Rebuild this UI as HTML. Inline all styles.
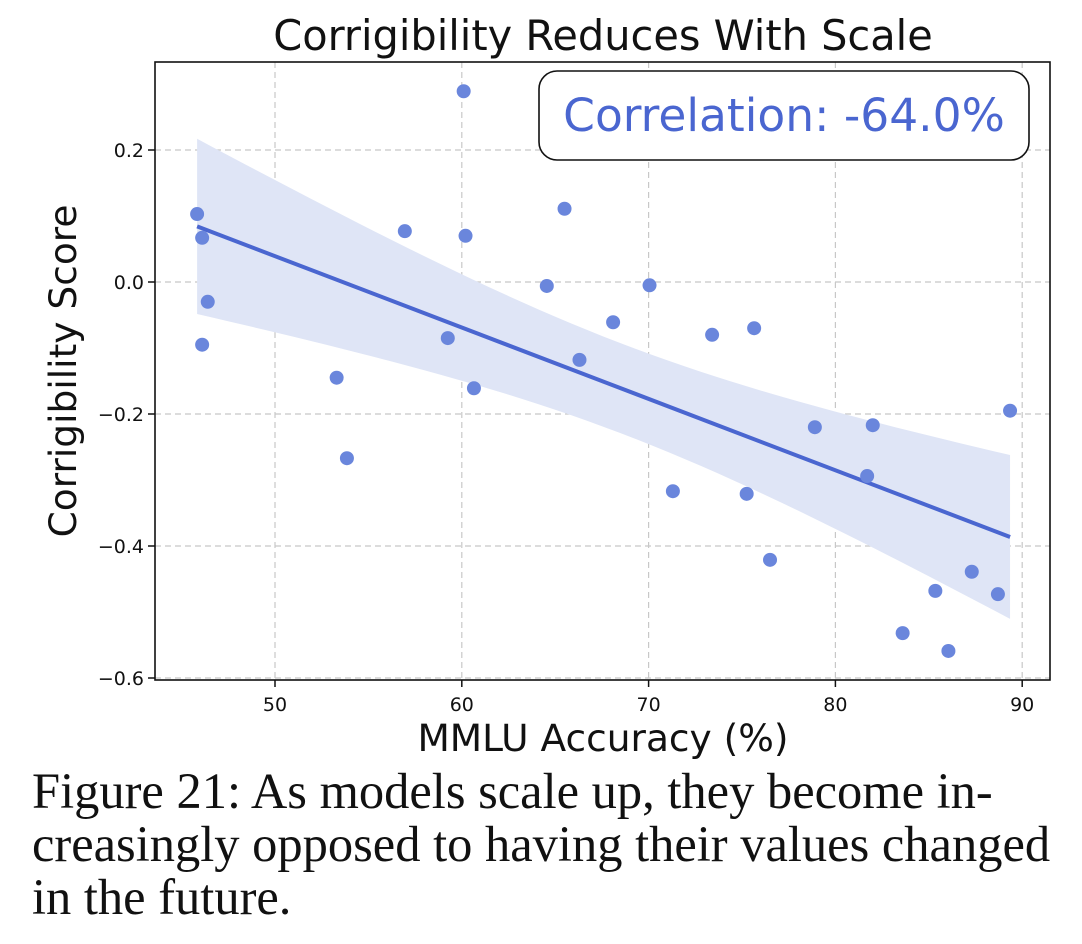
<!DOCTYPE html>
<html><head><meta charset="utf-8"><style>
body{margin:0;background:#fff;width:1082px;height:944px;overflow:hidden}
.cap{position:absolute;left:32px;font-family:"Liberation Serif",serif;font-size:50.5px;color:#111;line-height:53px;white-space:nowrap}
</style></head><body>
<svg id="chart" width="1082" height="760" style="position:absolute;left:0;top:0" font-family="DejaVu Sans, Liberation Sans, sans-serif">
<text x="603" y="50" font-size="41.5" text-anchor="middle" fill="#111">Corrigibility Reduces With Scale</text>
<g id="grid"></g><g id="band"></g><g id="line"></g><g id="pts"></g><g id="axes"></g>
<text transform="translate(76,371) rotate(-90)" font-size="37.5" text-anchor="middle" fill="#111">Corrigibility Score</text>
<text x="603" y="751" font-size="37.5" text-anchor="middle" fill="#111">MMLU Accuracy (%)</text>
<g>
<rect x="539" y="71" width="490" height="89" rx="18" fill="#fff" stroke="#111" stroke-width="1.6"/>
<text x="784" y="131" font-size="45.5" text-anchor="middle" fill="#4a66d0">Correlation: -64.0%</text>
</g>
</svg>
<div class="cap" style="top:765px">Figure 21: As models scale up, they become in-<br>creasingly opposed to having their values changed<br>in the future.</div>
<script>
const xs=[45.83,46.1,46.4,46.1,56.95,53.3,53.85,59.25,60.1,60.2,60.65,64.55,65.5,66.3,68.1,70.05,71.3,73.4,75.65,75.25,76.5,78.9,82.0,81.7,89.35,85.35,87.3,88.7,83.6,86.05];
const ys=[0.103,0.067,-0.030,-0.095,0.077,-0.145,-0.267,-0.085,0.289,0.070,-0.161,-0.006,0.111,-0.118,-0.061,-0.005,-0.317,-0.080,-0.070,-0.321,-0.421,-0.220,-0.217,-0.294,-0.195,-0.468,-0.439,-0.473,-0.532,-0.559];
const xTicks=[50,60,70,80,90];
const yTicks=[0.2,0.0,-0.2,-0.4,-0.6];
const L=155,R=1050,T=62,B=680;
const X=v=>275+(v-50)*18.68, Y=v=>282-v*660;
const NS="http://www.w3.org/2000/svg";
function mk(p,t,a){const e=document.createElementNS(NS,t);for(const k in a)e.setAttribute(k,a[k]);document.getElementById(p).appendChild(e);return e;}
xTicks.forEach(t=>{
 const g=mk('grid','line',{x1:X(t),x2:X(t),y1:T,y2:B,stroke:'#c8c8c8','stroke-dasharray':'6,4','stroke-width':1.2});
 
 
 mk('axes','line',{x1:X(t),x2:X(t),y1:B,y2:B+7,stroke:'#111','stroke-width':1.5});
 const tx=mk('axes','text',{x:X(t),y:B+31,'font-size':19,'text-anchor':'middle',fill:'#111'});
 tx.textContent=t;
 
 
});
yTicks.forEach(t=>{
 const g=mk('grid','line',{x1:L,x2:R,y1:Y(t),y2:Y(t),stroke:'#c8c8c8','stroke-dasharray':'6,4','stroke-width':1.2});
 
 
 mk('axes','line',{x1:L-7,x2:L,y1:Y(t),y2:Y(t),stroke:'#111','stroke-width':1.5});
 const tx=mk('axes','text',{x:L-11,y:Y(t)+7,'font-size':19,'text-anchor':'end',fill:'#111'});
 tx.textContent=(t<0?'\u2212':'')+Math.abs(t).toFixed(1);
 
 
});
const fr=mk('axes','rect',{x:L,y:T,width:R-L,height:B-T,fill:'none',stroke:'#111','stroke-width':1.6});


const n=xs.length,mx=xs.reduce((a,b)=>a+b)/n,my=ys.reduce((a,b)=>a+b)/n;
let sxx=0,sxy=0;xs.forEach((x,i)=>{sxx+=(x-mx)**2;sxy+=(x-mx)*(ys[i]-my);});
const b=sxy/sxx,a=my-b*mx;
let sse=0;xs.forEach((x,i)=>{sse+=(ys[i]-a-b*x)**2;});
const s=Math.sqrt(sse/(n-2)),tq=2.4;
const x0=Math.min(...xs),x1=Math.max(...xs);
let up=[],lo=[];
for(let k=0;k<=50;k++){const x=x0+(x1-x0)*k/50,yh=a+b*x,se=s*Math.sqrt(1/n+(x-mx)**2/sxx);
 up.push(X(x)+','+Y(yh+tq*se));lo.unshift(X(x)+','+Y(yh-tq*se));}
const band=mk('band','polygon',{points:up.concat(lo).join(' '),fill:'#dfe5f6'});


const ln=mk('line','line',{x1:X(x0),y1:Y(a+b*x0),x2:X(x1),y2:Y(a+b*x1),stroke:'#4a66d0','stroke-width':4});


xs.forEach((x,i)=>{
 const c=mk('pts','circle',{cx:X(x),cy:Y(ys[i]),r:7,fill:'#6a86dc'});
 
 
});
</script>
</body></html>
